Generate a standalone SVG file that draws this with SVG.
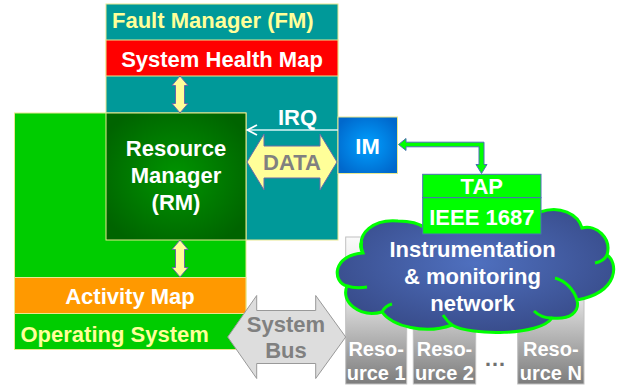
<svg xmlns="http://www.w3.org/2000/svg" width="621" height="389" viewBox="0 0 621 389">
<style>
text{font-family:"Liberation Sans",Arial,sans-serif;font-weight:bold;font-size:22px}
.c{text-anchor:middle}
.w{fill:#ffffff}
.y{fill:#ffff99}
.g{fill:#808080}
.bd{stroke:#e8e890;stroke-width:1}
.ya{fill:#ffff99;stroke:#6a6aa8;stroke-width:1}
.res{fill:url(#resG);stroke:#c0c0c0;stroke-width:1}
.rt{font-size:20px;fill:#ffffff;text-anchor:middle}
.tap{fill:#00ff00;stroke:#4a6fb5;stroke-width:1}
</style>
<defs>
<radialGradient id="rmG" cx="50%" cy="50%" r="60%">
<stop offset="0" stop-color="#009400"/>
<stop offset="1" stop-color="#006400"/>
</radialGradient>
<radialGradient id="imG" cx="50%" cy="50%" r="60%">
<stop offset="0" stop-color="#00a0ff"/>
<stop offset="1" stop-color="#0068cc"/>
</radialGradient>
<radialGradient id="cloudG" cx="50%" cy="45%" r="55%">
<stop offset="0" stop-color="#4f70bf"/>
<stop offset="1" stop-color="#394d8c"/>
</radialGradient>
<linearGradient id="resG" x1="0" y1="0" x2="0" y2="1">
<stop offset="0" stop-color="#fafafa"/>
<stop offset="0.45" stop-color="#dcdcdc"/>
<stop offset="1" stop-color="#7c7c7c"/>
</linearGradient>
</defs>

<g id="fault-manager">
<rect x="106" y="4" width="232" height="236" fill="#009999" class="bd"/>
<text x="112" y="28" class="y">Fault Manager (FM)</text>
</g>
<g id="system-health-map">
<rect x="106" y="40" width="232" height="36" fill="#ff0000" class="bd"/>
<text x="222" y="67" class="c w">System Health Map</text>
</g>
<g id="operating-system">
<rect x="14.5" y="113" width="231.5" height="236.5" fill="#00cc00" class="bd"/>
<text x="20.5" y="342" class="y">Operating System</text>
</g>
<g id="activity-map">
<rect x="14.5" y="277.5" width="231.5" height="36" fill="#ff9900" class="bd"/>
<text x="130" y="304" class="c w">Activity Map</text>
</g>
<g id="resource-manager">
<rect x="106" y="113" width="140" height="127" fill="url(#rmG)" class="bd"/>
<text x="176" y="156" class="c w">Resource</text>
<text x="176" y="182.5" class="c w">Manager</text>
<text x="176" y="209.5" class="c w">(RM)</text>
</g>
<g id="im">
<rect x="338" y="117" width="59.5" height="56.5" fill="url(#imG)" stroke="#e8e890" stroke-width="1"/>
<text x="367.5" y="153.5" class="c w">IM</text>
</g>
<g id="resource-1">
<rect x="345.7" y="237" width="61" height="147" class="res"/>
<text x="376.2" y="356" class="rt">Reso-</text>
<text x="376.2" y="379.5" class="rt">urce 1</text>
</g>
<g id="resource-2">
<rect x="413.3" y="237" width="62.4" height="147" class="res"/>
<text x="444.5" y="356" class="rt">Reso-</text>
<text x="444.5" y="379.5" class="rt">urce 2</text>
</g>
<g id="ellipsis">
<text x="495" y="366" class="c" fill="#707070" font-size="20">…</text>
</g>
<g id="resource-n">
<rect x="517.7" y="237" width="66.3" height="147" class="res"/>
<text x="550.8" y="356" class="rt">Reso-</text>
<text x="550.8" y="379.5" class="rt">urce N</text>
</g>
<g id="network">
<path d="M363,253 C355,232 375,219 398,221 C410,221 420,224 425,228 C445,205 520,200 540,212 C560,205 578,214 582,228 C596,224 612,238 607,255 C618,262 620,292 577,300 C580,312 570,320 552,318 C540,336 470,336 452,325 C425,335 392,326 382,312 C360,318 340,302 347,286 C332,282 332,255 363,253 Z" fill="url(#cloudG)" stroke="#00ff00" stroke-width="3"/>
<g fill="none" stroke="#00ff00" stroke-width="3">
<path d="M363,253 C360,249 360,245 362,241"/>
<path d="M347,286 C353,288 360,288 367,287"/>
<path d="M607,255 C605,259 600,262 595,263"/>
<path d="M577,300 C574,290 566,281 555,278"/>
<path d="M552,318 C545,318 538,315 534,311"/>
<path d="M452,325 C448,322 445,318 443,315"/>
<path d="M382,312 C384,308 388,305 392,304"/>
</g>
<text x="472.5" y="257" class="c w">Instrumentation</text>
<text x="472.5" y="283.5" class="c w">&amp; monitoring</text>
<text x="472.5" y="310.5" class="c w">network</text>
</g>
<g id="tap">
<rect x="422.7" y="174.3" width="118.3" height="23.4" class="tap"/>
<text x="481.8" y="194" class="c w">TAP</text>
</g>
<g id="ieee-1687">
<rect x="422.7" y="197.7" width="118.3" height="36.3" class="tap"/>
<text x="481.8" y="224.5" class="c w">IEEE 1687</text>
</g>

<g id="connectors">
<path class="ya" d="M180,76 L188,85.5 L184.5,85.5 L184.5,103.5 L188,103.5 L180,113 L172,103.5 L175.5,103.5 L175.5,85.5 L172,85.5 Z"/>
<path class="ya" d="M180,240 L188,249.5 L184.5,249.5 L184.5,267.5 L188,267.5 L180,277 L172,267.5 L175.5,267.5 L175.5,249.5 L172,249.5 Z"/>
<g id="irq">
<line x1="338" y1="130" x2="248" y2="130" stroke="#d8f4f4" stroke-width="1.5"/>
<polyline points="257,125 247.5,130 257,135" fill="none" stroke="#ffffff" stroke-width="1.8"/>
<text x="297.5" y="124.5" class="c w" font-size="20">IRQ</text>
</g>
<g id="data">
<path class="ya" d="M247,162 L264,134 L264,146 L320,146 L320,134 L337,162 L320,190 L320,178 L264,178 L264,190 Z"/>
<text x="292" y="170" class="c g">DATA</text>
</g>
<g id="system-bus">
<path d="M227.7,337 L256.7,295.5 L256.7,310.5 L315.7,310.5 L315.7,295.5 L345.7,337 L315.7,378.5 L315.7,363.5 L256.7,363.5 L256.7,378.5 Z" fill="#dddddd" stroke="#999999" stroke-width="1"/>
<text x="286" y="332" class="c g">System</text>
<text x="286" y="358" class="c g">Bus</text>
</g>
<path class="tap" d="M398.5,144.5 L406,138.5 L406,142.2 L484,142.2 L484,164.5 L487,164.5 L481.5,173.5 L476,164.5 L479,164.5 L479,146.8 L406,146.8 L406,150.5 Z"/>
</g>
</svg>
